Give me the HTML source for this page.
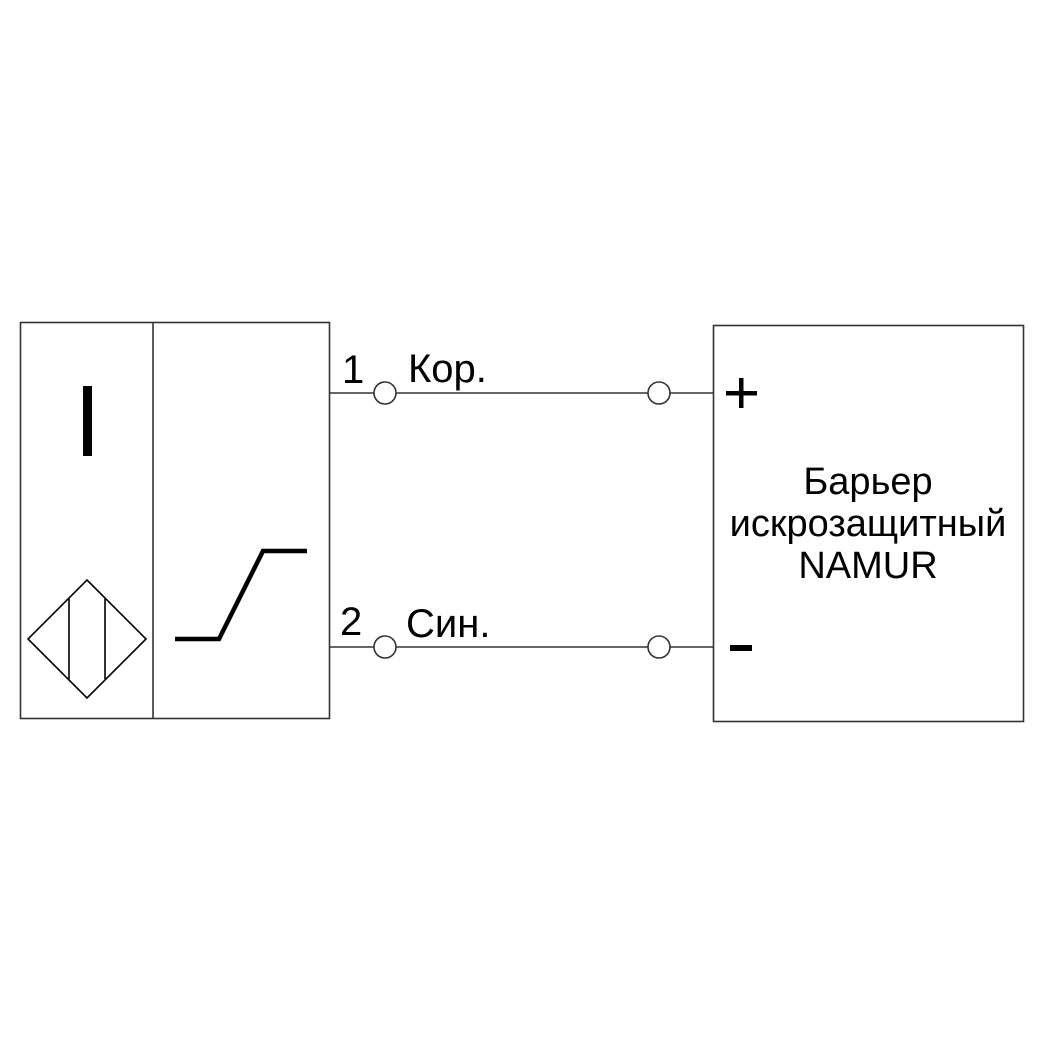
<!DOCTYPE html>
<html><head><meta charset="utf-8"><style>html,body{margin:0;padding:0;background:#fff}svg{display:block}</style></head>
<body>
<svg width="1042" height="1042" viewBox="0 0 1042 1042" xmlns="http://www.w3.org/2000/svg" font-family="Liberation Sans, sans-serif">
<rect width="1042" height="1042" fill="#fff"/>
<g fill="none" stroke="#333" stroke-width="1.6">
<rect x="20.5" y="322.5" width="309" height="396"/>
<line x1="153" y1="322" x2="153" y2="718"/>
<rect x="713.5" y="325.5" width="310" height="396"/>
<line x1="329" y1="393" x2="374" y2="393"/>
<line x1="396" y1="393" x2="648" y2="393"/>
<line x1="670" y1="393" x2="713" y2="393"/>
<line x1="329" y1="647" x2="374" y2="647"/>
<line x1="396" y1="647" x2="648" y2="647"/>
<line x1="670" y1="647" x2="713" y2="647"/>
<circle cx="385" cy="393" r="11"/>
<circle cx="659" cy="393" r="11"/>
<circle cx="385" cy="647" r="11"/>
<circle cx="659" cy="647" r="11"/>
</g>
<g fill="none" stroke="#000" stroke-width="1.6">
<polygon points="87,580 146,639 87,698 28,639"/>
<line x1="69" y1="599" x2="69" y2="679"/>
<line x1="105" y1="599" x2="105" y2="679"/>
</g>
<polyline points="175,639 219,639 263,551 307,551" fill="none" stroke="#000" stroke-width="4.5"/>
<rect x="83" y="386" width="9" height="70" fill="#000"/>
<rect x="726" y="391" width="31" height="4.5" fill="#000"/>
<rect x="739" y="378" width="4.5" height="30" fill="#000"/>
<rect x="730" y="645" width="22" height="6" fill="#000"/>
<g fill="#000" font-size="40">
<text x="342" y="383">1</text>
<text x="408" y="382">Кор.</text>
<text x="340" y="635">2</text>
<text x="406" y="637">Син.</text>
</g>
<g fill="#000" font-size="38" text-anchor="middle">
<text x="868" y="494">Барьер</text>
<text x="868" y="536">искрозащитный</text>
<text x="868" y="578">NAMUR</text>
</g>
</svg>
</body></html>
